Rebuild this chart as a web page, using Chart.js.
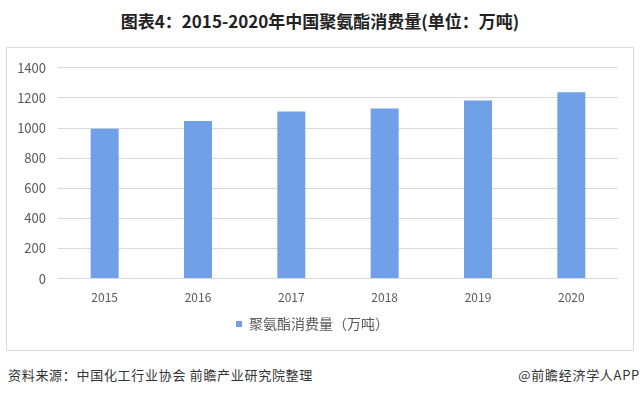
<!DOCTYPE html>
<html>
<head>
<meta charset="utf-8">
<script src="https://cdn.jsdelivr.net/npm/chart.js@4"></script>
<style>
  body { margin: 0; background: #fff; font-family: "Noto Sans CJK SC", "Noto Sans", sans-serif; }
  #wrap { position: relative; width: 640px; height: 398px; overflow: hidden; }
  #title { position: absolute; left: 0; top: 8px; width: 640px; text-align: center; font-size: 17px; font-weight: bold; color: #222; }
  #box { position: absolute; left: 6px; top: 47px; width: 626px; height: 302px; border: 1px solid #d9d9d9; }
  #foot { position: absolute; left: 8px; top: 365px; font-size: 13px; letter-spacing: 0.7px; color: #333; }
  #brand { position: absolute; right: 0; top: 365px; font-size: 13px; letter-spacing: 0.7px; color: #333; }
</style>
</head>
<body>
<div id="wrap">
  <div id="title">图表4：2015-2020年中国聚氨酯消费量(单位：万吨)</div>
  <div id="box"><canvas id="puChart" width="626" height="302"></canvas></div>
  <div id="foot">资料来源：中国化工行业协会 前瞻产业研究院整理</div>
  <div id="brand">@前瞻经济学人APP</div>
</div>
<script>
const years = ['2015', '2016', '2017', '2018', '2019', '2020'];
const consumption = [995, 1047, 1109, 1129, 1183, 1238];
const seriesName = '聚氨酯消费量（万吨）';

Chart.defaults.font.family = '"Noto Sans CJK SC", "Noto Sans", sans-serif';
Chart.defaults.color = '#595959';

const pu_chart = document.getElementById('puChart');
new Chart(pu_chart, {
  type: 'bar',
  data: {
    labels: years,
    datasets: [{
      label: seriesName,
      data: consumption,
      backgroundColor: '#70a0e8',
      barPercentage: 0.6,
      categoryPercentage: 0.5
    }]
  },
  options: {
    responsive: false,
    animation: false,
    layout: { padding: { top: 12, right: 15, left: 0, bottom: 9 } },
    plugins: {
      legend: {
        position: 'bottom',
        labels: { boxWidth: 6, boxHeight: 6, font: { size: 14 }, padding: 8 }
      },
      tooltip: { enabled: false }
    },
    scales: {
      x: {
        grid: { display: false },
        border: { display: false },
        ticks: { font: { size: 12 }, padding: 4 }
      },
      y: {
        min: 0,
        max: 1400,
        ticks: { stepSize: 200, font: { size: 13 }, padding: 12, callback: v => String(v) },
        grid: { color: '#d9d9d9', drawTicks: false },
        border: { display: false },
        afterFit: s => { s.width = 51; }
      }
    }
  }
});
</script>
</body>
</html>
